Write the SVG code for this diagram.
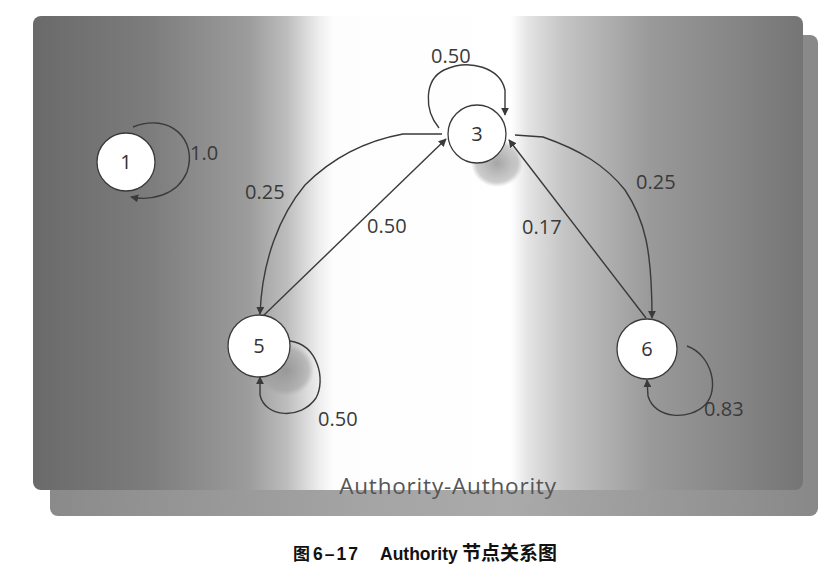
<svg xmlns="http://www.w3.org/2000/svg" width="826" height="570" viewBox="0 0 826 570">
<defs>
<linearGradient id="bg" x1="0" y1="0" x2="1" y2="0">
<stop offset="0" stop-color="#6a6a6a"/>
<stop offset="0.15" stop-color="#7c7c7c"/>
<stop offset="0.28" stop-color="#9c9c9c"/>
<stop offset="0.33" stop-color="#bdbdbd"/>
<stop offset="0.37" stop-color="#ececec"/>
<stop offset="0.39" stop-color="#fdfdfd"/>
<stop offset="0.62" stop-color="#ffffff"/>
<stop offset="0.645" stop-color="#e2e2e2"/>
<stop offset="0.69" stop-color="#c4c4c4"/>
<stop offset="0.8" stop-color="#9a9a9a"/>
<stop offset="1" stop-color="#757575"/>
</linearGradient>
<linearGradient id="bg2" x1="0" y1="0" x2="1" y2="0">
<stop offset="0" stop-color="#8a8a8a"/>
<stop offset="0.4" stop-color="#a4a4a4"/>
<stop offset="0.6" stop-color="#aaaaaa"/>
<stop offset="1" stop-color="#888888"/>
</linearGradient>
<radialGradient id="sh">
<stop offset="0" stop-color="#8f8f8f" stop-opacity="0.8"/>
<stop offset="0.8" stop-color="#9a9a9a" stop-opacity="0.5"/>
<stop offset="1" stop-color="#a0a0a0" stop-opacity="0"/>
</radialGradient>
<marker id="ar" viewBox="0 0 10 10" refX="9" refY="5" markerWidth="8" markerHeight="8" markerUnits="userSpaceOnUse" orient="auto">
<path d="M0,0 L10,5 L0,10 z" fill="#3a3a3a"/>
</marker>
<style>
.node circle{fill:#ffffff;stroke:#3a3a3a;stroke-width:1.3}
.node text{font-family:"Open Sans","DejaVu Sans",sans-serif;font-size:20px;fill:#333;text-anchor:middle}
.edge{fill:none;stroke:#3a3a3a;stroke-width:1.4;marker-end:url(#ar)}
.lbl{font-family:"Open Sans","DejaVu Sans",sans-serif;font-size:20px;fill:#3a3a3a}
.cap{font-family:"Liberation Sans","Noto Sans CJK SC",sans-serif;font-weight:bold;fill:#111}
</style>
</defs>
<rect width="826" height="570" fill="#ffffff"/>
<rect x="50" y="35" width="768" height="481" rx="8" fill="url(#bg2)"/>
<rect x="33" y="16" width="770" height="474" rx="8" fill="url(#bg)"/>
<ellipse cx="497" cy="163" rx="26" ry="24" fill="url(#sh)"/>
<ellipse cx="286" cy="370" rx="28" ry="26" fill="url(#sh)"/>
<g id="connectors">
<path class="edge" d="M133,127 C170,112 198,140 187,172 C177,196 150,201 131,197"/>
<path class="edge" d="M439,128 C424,110 424,80 444,70 C470,58 500,68 505,90 L505,115"/>
<path class="edge" d="M290,341 C318,345 326,380 316,398 C301,420 265,418 260,395 L260,377"/>
<path class="edge" d="M687,346 C712,355 720,390 705,405 C690,420 655,420 648,396 L647,380"/>
<path class="edge" d="M442,134 L403,134 C370,140 335,155 305,185 C280,215 262,260 260,314"/>
<path class="edge" d="M263,316 L446,139"/>
<path class="edge" d="M515,135 L543,137 C580,150 605,165 625,190 C645,220 652,250 652,318"/>
<path class="edge" d="M646,318 L509,140"/>
</g>
<g id="node1" class="node"><circle cx="126" cy="162" r="29"/><text x="126" y="169">1</text></g>
<g id="node3" class="node"><circle cx="477" cy="134" r="29"/><text x="477" y="141">3</text></g>
<g id="node5" class="node"><circle cx="259" cy="346" r="31"/><text x="259" y="353">5</text></g>
<g id="node6" class="node"><circle cx="647" cy="349" r="30"/><text x="647" y="356">6</text></g>
<g id="labels">
<text class="lbl" x="190" y="160">1.0</text>
<text class="lbl" x="431" y="63">0.50</text>
<text class="lbl" x="245" y="199">0.25</text>
<text class="lbl" x="367" y="233">0.50</text>
<text class="lbl" x="522" y="234">0.17</text>
<text class="lbl" x="636" y="189">0.25</text>
<text class="lbl" x="318" y="426">0.50</text>
<text class="lbl" x="704" y="416">0.83</text>
<text x="448" y="494" font-family="'Open Sans','DejaVu Sans',sans-serif" font-size="22.5" letter-spacing="0.8" fill="#555" text-anchor="middle">Authority-Authority</text>
<text class="cap" x="293" y="560" font-size="17">图</text>
<text class="cap" x="313" y="560" font-size="17.5" letter-spacing="2">6–17</text>
<text class="cap" x="380" y="560" font-size="17.5">Authority</text>
<text class="cap" x="462" y="560" font-size="19">节点关系图</text>
</g>
</svg>
